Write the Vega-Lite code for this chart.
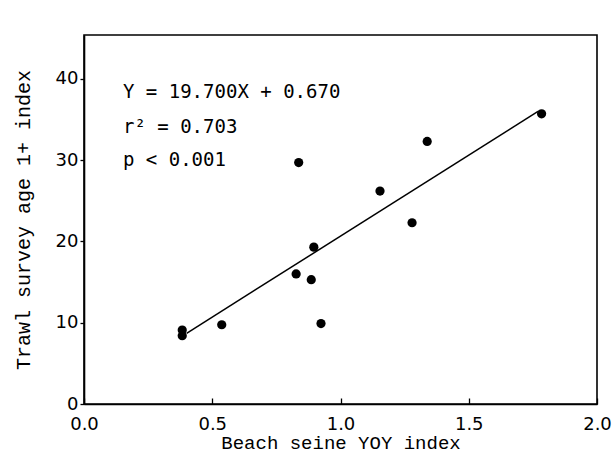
{
  "$schema": "https://vega.github.io/schema/vega-lite/v6.json",
  "autosize": "none",
  "width": 513,
  "height": 369,
  "padding": {"left": 84, "top": 35, "right": 16, "bottom": 64},
  "background": "white",
  "config": {
    "view": {"stroke": "black", "strokeWidth": 1.6},
    "axis": {
      "domainColor": "black",
      "domainWidth": 1.6,
      "tickColor": "black",
      "tickWidth": 1.3,
      "grid": false,
      "labelFont": "DejaVu Sans",
      "labelFontSize": 18,
      "labelColor": "black",
      "titleFont": "Liberation Mono",
      "titleFontWeight": "normal",
      "titleColor": "black"
    }
  },
  "datasets": {
    "points": [
      {"x": 0.383, "y": 9.1},
      {"x": 0.383, "y": 8.4},
      {"x": 0.537, "y": 9.75},
      {"x": 0.827, "y": 16.0},
      {"x": 0.837, "y": 29.7},
      {"x": 0.886, "y": 15.3},
      {"x": 0.896, "y": 19.3},
      {"x": 0.924, "y": 9.9},
      {"x": 1.154, "y": 26.2},
      {"x": 1.279, "y": 22.3},
      {"x": 1.338, "y": 32.3},
      {"x": 1.784, "y": 35.7}
    ],
    "fit": [
      {"x": 0.40, "y": 8.7},
      {"x": 1.77, "y": 36.0}
    ],
    "notes": [
      {"x": 0.152, "y": 37.7, "t": "Y = 19.700X + 0.670"},
      {"x": 0.152, "y": 33.4, "t": "r² = 0.703"},
      {"x": 0.152, "y": 29.3, "t": "p < 0.001"}
    ]
  },
  "layer": [
    {
      "data": {"name": "points"},
      "mark": {"type": "circle", "size": 85, "color": "black", "opacity": 1},
      "encoding": {
        "x": {
          "field": "x", "type": "quantitative",
          "scale": {"domain": [0, 2], "nice": false, "zero": false},
          "axis": {
            "title": "Beach seine YOY index",
            "titleFontSize": 19,
            "titlePadding": 0,
            "values": [0, 0.5, 1, 1.5, 2],
            "format": ".1f",
            "tickSize": -6,
            "labelPadding": 17,
            "labelFlush": false
          }
        },
        "y": {
          "field": "y", "type": "quantitative",
          "scale": {"domain": [0, 45.4], "nice": false},
          "axis": {
            "title": "Trawl survey age 1+ index",
            "titleFontSize": 20,
            "titlePadding": 22,
            "values": [0, 10, 20, 30, 40],
            "tickSize": 4,
            "labelPadding": 2,
            "labelFlush": false
          }
        }
      }
    },
    {
      "data": {"name": "fit"},
      "mark": {"type": "line", "color": "black", "strokeWidth": 1.5},
      "encoding": {
        "x": {"field": "x", "type": "quantitative"},
        "y": {"field": "y", "type": "quantitative"}
      }
    },
    {
      "data": {"name": "notes"},
      "mark": {"type": "text", "align": "left", "baseline": "alphabetic", "font": "DejaVu Sans Mono", "fontSize": 19, "color": "black"},
      "encoding": {
        "x": {"field": "x", "type": "quantitative"},
        "y": {"field": "y", "type": "quantitative"},
        "text": {"field": "t"}
      }
    }
  ]
}
